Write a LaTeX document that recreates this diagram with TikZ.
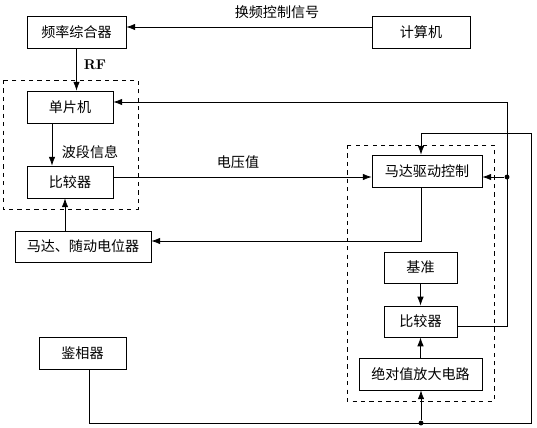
\documentclass[tikz,border=0pt]{standalone}
\usepackage{fontspec}
\newfontfamily\cjk{Noto Sans CJK SC}
\usetikzlibrary{arrows.meta}

\begin{document}
\begin{tikzpicture}[x=0.025cm,y=-0.025cm,line width=0.5pt,
  blk/.style={draw,minimum height=0.8cm,inner sep=0pt,font=\cjk\fontsize{10}{12}\selectfont},
  lbl/.style={font=\cjk\fontsize{10}{12}\selectfont},
  arr/.style={-{Latex[length=2.2mm,width=1.6mm]}},
  dot/.style={circle,fill,inner sep=0pt,minimum size=3.5pt}]
  \useasboundingbox (0,0) rectangle (537,427);
  % Dashed groups
  \draw[dashed] (3,80) rectangle (138,209);
  \draw[dashed] (347,145) rectangle (494,401);
  % Left column
  \node[blk,minimum width=2.475cm] (plzh) at (76.5,32) {频率综合器};
  \node[blk,minimum width=2.45cm] (jsj) at (421,32) {计算机};
  \node[blk,minimum width=2.15cm] (dpj) at (70,107) {单片机};
  \node[blk,minimum width=2.15cm] (bjqa) at (70,182) {比较器};
  \node[blk,minimum width=3.4cm,minimum height=0.78cm] (mdsd) at (83,246.5) {马达、随动电位器};
  \node[blk,minimum width=2.175cm] (jxq) at (82.5,353.5) {鉴相器};
  % Right column
  \node[blk,minimum width=2.75cm] (mdqd) at (427,171) {马达驱动控制};
  \node[blk,minimum width=1.825cm,minimum height=0.78cm] (jz) at (420.5,267.5) {基准};
  \node[blk,minimum width=1.825cm,minimum height=0.78cm] (bjqb) at (420.5,321.5) {比较器};
  \node[blk,minimum width=3.075cm] (jdz) at (420.5,374) {绝对值放大电路};
  % Helper points
  \coordinate (hp) at (0,27);
  \coordinate (xd) at (52,0);
  \coordinate (xm) at (65,0);
  \coordinate (vy) at (0,177);
  \coordinate (xq) at (421,0);
  \coordinate (my) at (0,241);
  \coordinate (ra) at (507,326);
  \coordinate (rb) at (507,102);
  \coordinate (ba) at (89,423);
  \coordinate (bb) at (531,423);
  \coordinate (bc) at (531,133);
  \coordinate (bd) at (421,133);
  \node[dot] (ja) at (507,177) {};
  \node[dot] (jb) at (421,423) {};
  % Signals
  \draw[arr] (jsj.west |- hp) -- (plzh.east |- hp);
  \node[lbl] at (277,12) {换频控制信号};
  \draw[arr] (plzh.south) -- (plzh.south |- dpj.north);
  \node at (95,65) {\textbf{RF}};
  \draw[arr] (xd |- dpj.south) -- (xd |- bjqa.north);
  \node[lbl] at (90,152) {波段信息};
  \draw[arr] (bjqa.east |- vy) -- (mdqd.west |- vy);
  \node[lbl] at (238,162) {电压值};
  \draw[arr] (xq |- mdqd.south) -- (xq |- my) -- (mdsd.east |- my);
  \draw[arr] (xm |- mdsd.north) -- (xm |- bjqa.south);
  % Feedback loops
  \draw[arr] (bjqb.east |- ra) -- (ra) -- (rb) -- (dpj.east |- rb);
  \draw[arr] (ja) -- (mdqd.east |- ja);
  \draw[arr] (ba |- jxq.south) -- (ba) -- (bb) -- (bc) -- (bd) -- (bd |- mdqd.north);
  \draw[arr] (jb) -- (jb |- jdz.south);
  \draw[arr] (jz) -- (bjqb);
  \draw[arr] (jdz) -- (bjqb);
\end{tikzpicture}
\end{document}
